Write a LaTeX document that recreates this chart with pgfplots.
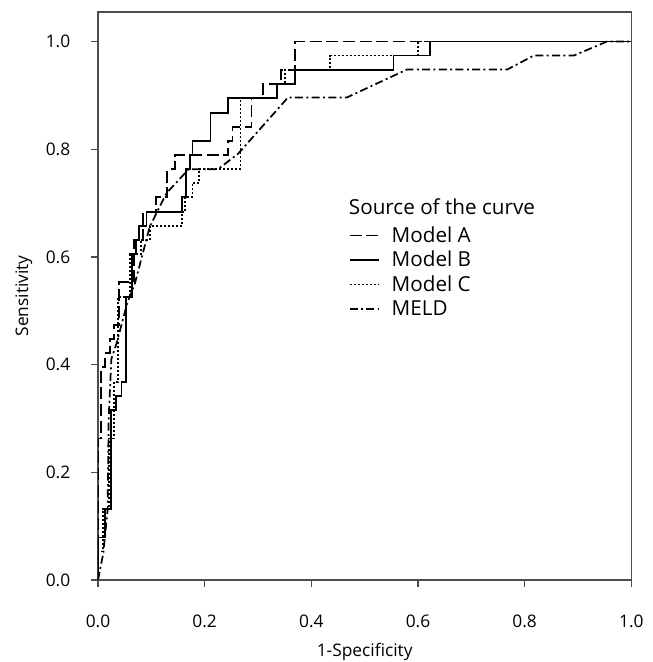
\documentclass[border=0pt]{standalone}
\usepackage{pgfplots}
\pgfplotsset{compat=1.18}
\usepackage{fontspec}
\setmainfont{Open Sans}

% ROC curves
\pgfplotstableread{
x y
0 0
0 0.263
0.005 0.263
0.005 0.395
0.0125 0.395
0.0125 0.421
0.022 0.421
0.022 0.447
0.03 0.447
0.03 0.474
0.04 0.474
0.04 0.553
0.067 0.553
0.067 0.632
0.084 0.632
0.084 0.684
0.109 0.684
0.109 0.711
0.130 0.711
0.130 0.763
0.144 0.763
0.144 0.789
0.244 0.789
0.244 0.816
0.252 0.816
0.252 0.842
0.288 0.842
0.288 0.895
0.31 0.895
0.31 0.921
0.343 0.921
0.343 0.947
0.370 0.947
0.370 1
1 1
}\modelA

\pgfplotstableread{
x y
0 0
0 0.079
0.0125 0.079
0.0125 0.132
0.025 0.132
0.025 0.316
0.034 0.316
0.034 0.342
0.044 0.342
0.044 0.368
0.053 0.368
0.053 0.526
0.064 0.526
0.064 0.605
0.071 0.605
0.071 0.632
0.077 0.632
0.077 0.658
0.091 0.658
0.091 0.684
0.158 0.684
0.158 0.711
0.165 0.711
0.165 0.763
0.172 0.763
0.172 0.789
0.177 0.789
0.177 0.816
0.211 0.816
0.211 0.868
0.244 0.868
0.244 0.895
0.336 0.895
0.336 0.921
0.369 0.921
0.369 0.947
0.554 0.947
0.554 0.974
0.622 0.974
0.622 1
1 1
}\modelB

\pgfplotstableread{
x y
0 0
0 0.053
0.01 0.053
0.01 0.132
0.02 0.132
0.02 0.263
0.03 0.263
0.03 0.368
0.037 0.368
0.037 0.526
0.06 0.526
0.06 0.605
0.08 0.605
0.08 0.632
0.097 0.632
0.097 0.658
0.158 0.658
0.158 0.684
0.163 0.684
0.163 0.711
0.177 0.711
0.177 0.737
0.19 0.737
0.19 0.763
0.267 0.763
0.267 0.895
0.336 0.895
0.336 0.921
0.350 0.921
0.350 0.947
0.435 0.947
0.435 0.974
0.60 0.974
0.60 1
1 1
}\modelC

\pgfplotstableread{
x y
0 0
0.01 0.05
0.018 0.13
0.02 0.30
0.025 0.41
0.035 0.44
0.055 0.515
0.069 0.55
0.097 0.656
0.128 0.718
0.17 0.763
0.225 0.763
0.263 0.792
0.356 0.896
0.466 0.896
0.579 0.948
0.767 0.948
0.817 0.974
0.892 0.974
0.954 1
1 1
}\meld

\begin{document}
\begin{tikzpicture}
\begin{axis}[
    name=ax,
    scale only axis,
    width=400pt, height=426pt,
    xmin=0, xmax=1, ymin=0, ymax=1.055,
    axis line style={black!70, line width=0.8pt},
    tick style={black!70, line width=0.8pt},
    tick align=outside,
    major tick length=5pt,
    xtick={0,0.2,...,1.0},
    ytick={0,0.2,...,1.0},
    xtick pos=bottom, ytick pos=left,
    /pgf/number format/.cd, fixed, fixed zerofill, precision=1, assume math mode=true,
    /pgfplots/.cd,
    ticklabel style={font=\fontsize{13}{15}\selectfont},
    xticklabel style={anchor=center, yshift=-26pt},
    yticklabel style={anchor=center, xshift=-25pt},
    xlabel={1-Specificity},
    ylabel={Sensitivity},
    label style={font=\fontsize{13}{15}\selectfont},
    xlabel style={at={(axis description cs:0.5,-0.127)}, anchor=center},
    ylabel style={at={(axis description cs:-0.139,0.5)}, anchor=center},
    legend style={at={(axis cs:0.47,0.662)}, anchor=north west, draw=none, fill=none,
        font=\fontsize{15.5}{17}\selectfont, row sep=1.2pt, column sep=7pt, inner sep=0pt},
    legend cell align=left,
    legend image code/.code={\draw[#1, line width=1.1pt] (0pt,0pt) -- (22pt,0pt);},
    every axis plot/.append style={black, line width=1.3pt, line join=miter},
]
\addplot[dash pattern=on 9pt off 3.5pt] table {\modelA};
\addlegendentry{Model A}
\addplot[solid] table {\modelB};
\addlegendentry{Model B}
\addplot[dash pattern=on 1.5pt off 1.5pt] table {\modelC};
\addlegendentry{Model C}
\addplot[dash pattern=on 6pt off 2.5pt on 1.5pt off 2.5pt] table {\meld};
\addlegendentry{MELD}
\node[anchor=west, font=\fontsize{15.5}{17}\selectfont, inner sep=0pt] at (axis cs:0.47,0.694) {Source of the curve};
\end{axis}
\pgfresetboundingbox
\path[use as bounding box] ([xshift=-73.5pt,yshift=-61.5pt]ax.south west) rectangle ([xshift=15.75pt,yshift=9pt]ax.north east);
\end{tikzpicture}
\end{document}
